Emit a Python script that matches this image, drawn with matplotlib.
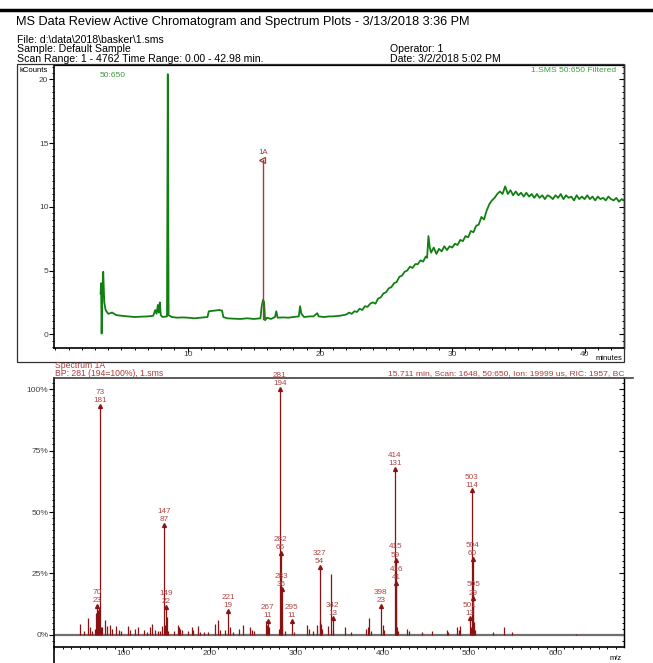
import matplotlib
matplotlib.use('Agg')
from matplotlib import pyplot as plt
from matplotlib.lines import Line2D
from matplotlib.patches import Rectangle
from matplotlib.ticker import MultipleLocator

plt.rcParams['font.family'] = ['Liberation Sans', 'DejaVu Sans']

W, H = 653, 663

# chromatogram, time (min) and intensity (kCounts)
chrom_time = [3.42, 3.46, 3.50, 3.55, 3.62, 3.70, 3.80, 4.0, 4.3, 4.6, 5.0, 5.5, 6.0, 6.5, 7.0, 7.4,
              7.55, 7.65, 7.75, 7.82, 7.9, 7.97, 8.1, 8.44, 8.50, 8.56, 8.8, 9.2, 9.6, 10.0, 10.5, 11.0,
              11.5, 11.6, 12.0, 12.4, 12.6, 12.7, 13.0, 13.5, 14.0, 14.5, 15.0, 15.5, 15.6, 15.7, 15.78,
              15.85, 16.0, 16.3, 16.6, 16.7, 16.8, 17.2, 17.6, 18.0, 18.4, 18.5, 18.6, 18.8, 19.2, 19.5,
              19.8, 19.9, 20.3, 20.7, 21.0, 21.5,
              22.0, 22.2, 22.4, 22.6, 22.8, 23.0, 23.2, 23.4, 23.6, 23.8, 24.0, 24.2, 24.4, 24.6, 24.8,
              25.0, 25.2, 25.4, 25.6, 25.8, 26.0, 26.2, 26.4, 26.6, 26.8, 27.0, 27.2, 27.4, 27.6, 27.8,
              28.0, 28.1, 28.2, 28.3, 28.4, 28.6, 28.8, 29.0, 29.2, 29.4, 29.6, 29.8, 30.0, 30.2, 30.4,
              30.6, 30.8, 31.0, 31.2, 31.4, 31.6, 31.8, 32.0, 32.2, 32.4, 32.6, 32.8, 33.0, 33.2, 33.4,
              33.6, 33.8, 34.0, 34.2, 34.4, 34.6, 34.8, 35.0, 35.2, 35.4, 35.6, 35.8, 36.0, 36.2, 36.4,
              36.6, 36.8, 37.0, 37.2, 37.4, 37.6, 37.8, 38.0, 38.2, 38.4, 38.6, 38.8, 39.0, 39.2, 39.4,
              39.6, 39.8, 40.0, 40.2, 40.4, 40.6, 40.8, 41.0, 41.2, 41.4, 41.6, 41.8, 42.0, 42.2, 42.4,
              42.6, 42.8, 42.98]
chrom_kcounts = [3.2, 4.0, 0.05, 3.0, 4.9, 2.5, 1.9, 1.6, 1.7, 1.5, 1.45, 1.4, 1.35, 1.38, 1.4, 1.45,
                 1.9, 1.6, 2.3, 1.7, 2.5, 1.5, 1.35, 1.4, 20.4, 1.5, 1.35, 1.3, 1.32, 1.3, 1.25, 1.3,
                 1.35, 1.8, 1.85, 1.9, 1.85, 1.35, 1.25, 1.22, 1.2, 1.25, 1.2, 1.25, 2.2, 2.7, 2.5,
                 1.1, 1.3, 1.2, 1.35, 1.8, 1.3, 1.32, 1.3, 1.35, 1.4, 2.2, 1.6, 1.35, 1.4, 1.4,
                 1.65, 1.4, 1.35, 1.4, 1.4, 1.45,
                 1.55, 1.7, 1.6, 1.8, 1.75, 2.0, 1.9, 2.2, 2.15, 2.4, 2.5, 2.4, 2.8, 2.9, 3.2,
                 3.3, 3.6, 3.7, 4.0, 4.1, 4.5, 4.6, 4.9, 5.0, 5.3, 5.2, 5.5, 5.5, 5.8, 5.7,
                 6.1, 6.0, 7.7, 6.8, 6.4, 6.8, 6.3, 6.7, 6.5, 6.9, 6.6, 6.9, 6.8, 7.1, 7.0,
                 7.4, 7.3, 7.7, 7.6, 8.1, 8.0, 8.5, 8.6, 9.2, 9.0, 9.7, 10.2, 10.5, 10.7, 11.0,
                 11.2, 11.0, 11.6, 11.0, 11.3, 10.9, 11.2, 10.9, 11.1, 10.8, 11.1, 10.8, 11.0, 10.7, 11.0,
                 10.7, 10.9, 10.6, 10.9, 10.8, 10.6, 10.9, 10.7, 11.0, 10.6, 10.9, 10.7, 10.8, 10.5, 10.9,
                 10.6, 10.8, 10.6, 10.9, 10.6, 10.8, 10.5, 10.8, 10.6, 10.7, 10.5, 10.8, 10.6, 10.5, 10.7,
                 10.4, 10.6, 10.5]

# spectrum 1A, m/z and counts (base peak 281 = 194)
spec_mz = [50, 54, 59, 62, 64, 67, 68, 69, 70, 71, 72, 73, 74, 75, 79, 81, 85, 87, 91, 95, 97,
           105, 108, 114, 117, 124, 127, 131, 133, 137, 140, 143, 145, 147, 148, 149, 150, 152,
           159, 163, 164, 166, 168, 175, 179, 181, 186, 189, 193, 198, 206, 209, 212, 218, 221,
           223, 227, 234, 239, 247, 249, 251, 265, 266, 267, 268, 280, 281, 282, 283, 284, 287,
           295, 298, 312, 315, 320, 324, 327, 328, 329, 330, 337, 340, 342, 343, 357, 363, 381,
           383, 384, 386, 398, 400, 401, 414, 415, 416, 417, 418, 428, 431, 445, 457, 475, 476,
           486, 488, 490, 501, 502, 503, 504, 505, 506, 507, 528, 540, 550, 624]
spec_counts = [9, 3, 13, 6, 3, 5, 17, 18, 23, 20, 21, 181, 6, 6, 12, 7, 8, 5, 7, 4, 3,
               7, 4, 5, 6, 4, 2, 6, 9, 4, 3, 3, 7, 87, 8, 22, 14, 3,
               3, 8, 6, 5, 4, 3, 6, 4, 7, 2, 2, 2, 9, 12, 4, 4, 19,
               6, 2, 5, 8, 6, 4, 3, 11, 8, 11, 6, 5, 194, 65, 36, 9, 3,
               11, 2, 8, 5, 3, 8, 54, 11, 9, 5, 7, 48, 13, 4, 6, 2, 5,
               6, 13, 3, 23, 8, 4, 131, 59, 41, 6, 3, 5, 3, 2, 3, 4, 2,
               6, 4, 7, 13, 6, 114, 60, 29, 10, 4, 2, 6, 2, 1]
base_count = 194
labeled_mz = [70, 73, 147, 149, 221, 267, 281, 282, 283, 295, 327, 342, 398, 414, 415, 416,
              501, 503, 504, 505]

chrom_yticks = [0, 5, 10, 15, 20]
chrom_xticks = [10, 20, 30, 40]
spec_yticks = [0, 25, 50, 75, 100]
spec_yticklabels = ['0%', '25%', '50%', '75%', '100%']
spec_xticks = [100, 200, 300, 400, 500, 600]

GREEN = '#118011'
RED = '#8b1212'
RED_TXT = '#b04646'
TICK_TXT = '#404040'


def fx(px):
    return px / W


def fy(py):
    return 1 - py / H


fig = plt.figure(figsize=(W / 100, H / 100), dpi=100)

# header
fig.add_artist(Line2D([0, 1], [fy(10), fy(10)], color='black', lw=2.5))
fig.text(fx(16), fy(22), 'MS Data Review Active Chromatogram and Spectrum Plots - 3/13/2018 3:36 PM',
         fontsize=9.2, va='center')
hdr = 7.6
fig.text(fx(17), fy(40), 'File: d:\\data\\2018\\basker\\1.sms', fontsize=hdr, va='center')
fig.text(fx(17), fy(49.5), 'Sample: Default Sample', fontsize=hdr, va='center')
fig.text(fx(17), fy(58.5), 'Scan Range: 1 - 4762 Time Range: 0.00 - 42.98 min.', fontsize=hdr, va='center')
fig.text(fx(390), fy(49.5), 'Operator: 1', fontsize=hdr, va='center')
fig.text(fx(390), fy(58.5), 'Date: 3/2/2018 5:02 PM', fontsize=hdr, va='center')

# chromatogram frame
fig.add_artist(Rectangle((fx(17), fy(362)), fx(624) - fx(17), fy(64) - fy(362), fill=False,
                         lw=0.9, edgecolor='#303030', transform=fig.transFigure))

ax1 = fig.add_axes([fx(54), fy(347.5), fx(624) - fx(54), fy(65) - fy(347.5)])
ax1.plot(chrom_time, chrom_kcounts, color=GREEN, lw=1.3)
ax1.plot([15.71, 15.71], [1.2, 13.7], color='#a03c3c', lw=1.0)
ax1.plot(15.6, 13.7, marker='<', mfc='none', mec='#a03c3c', ms=5, mew=0.9)
ax1.text(15.71, 14.25, '1A', ha='center', va='center', color='#a03c3c', fontsize=5.6)
ax1.set_xlim(-0.1, 42.98)
ax1.set_ylim(-1.04, 21.12)
ax1.set_xticks(chrom_xticks)
ax1.set_yticks(chrom_yticks)
ax1.xaxis.set_minor_locator(MultipleLocator(1))
ax1.yaxis.set_minor_locator(MultipleLocator(0.5))
ax1.tick_params(which='major', direction='out', length=3.5, width=0.8, labelsize=6,
                labelcolor=TICK_TXT, pad=0.5)
ax1.tick_params(which='minor', direction='out', length=1.5, width=0.7)
ax1.tick_params(axis='x', pad=-1)
for s in ['left', 'bottom']:
    ax1.spines[s].set_linewidth(1.2)
ax1.spines['top'].set_linewidth(0.9)
ax1.spines['right'].set_linewidth(1.0)
r1 = ax1.secondary_yaxis('right')
r1.set_yticks(chrom_yticks)
r1.yaxis.set_minor_locator(MultipleLocator(0.5))
r1.tick_params(which='major', direction='in', length=3.5, width=0.8, labelright=False)
r1.tick_params(which='minor', direction='in', length=1.5, width=0.7)

fig.text(fx(20), fy(70), 'kCounts', fontsize=5.6, va='center')
fig.text(fx(100), fy(75.5), '50:650', fontsize=6.1, va='center', color='#3c9c3c')
fig.text(fx(616), fy(70.5), '1.SMS 50:650 Filtered', fontsize=6.1, va='center', ha='right',
         color='#3ca03c')
fig.text(fx(622), fy(358.5), 'minutes', fontsize=5.5, va='center', ha='right')

# spectrum
spec_hdr = 6.2
fig.text(fx(55), fy(366), 'Spectrum 1A', fontsize=spec_hdr, va='center', color='#b03a3a')
fig.text(fx(55), fy(373.5), 'BP: 281 (194=100%), 1.sms', fontsize=spec_hdr, va='center', color='#b03a3a')
fig.text(fx(624), fy(373.5), '15.711 min, Scan: 1648, 50:650, Ion: 19999 us, RIC: 1957, BC',
         fontsize=6.1, va='center', ha='right', color='#b03a3a')

ax2 = fig.add_axes([fx(54), fy(647), fx(624) - fx(54), fy(378) - fy(647)])
spec_pct = [c / base_count * 100 for c in spec_counts]
ax2.axhline(0, color='#707070', lw=1.6, zorder=1)
ax2.vlines(spec_mz, 0, spec_pct, color=RED, lw=0.9, zorder=2)
for m, c, p in zip(spec_mz, spec_counts, spec_pct):
    if m in labeled_mz:
        ax2.plot(m, p, marker='^', ms=2.8, color=RED, zorder=3)
        ax2.annotate(str(c), (m, p), xytext=(0, 1.2), textcoords='offset points', ha='center',
                     va='bottom', fontsize=5.9, color=RED_TXT, annotation_clip=False)
        ax2.annotate(str(m), (m, p), xytext=(0, 7.0), textcoords='offset points', ha='center',
                     va='bottom', fontsize=5.9, color=RED_TXT, annotation_clip=False)
ax2.set_xlim(19.8, 679.2)
ax2.set_ylim(-4.9, 104.5)
ax2.set_xticks(spec_xticks)
ax2.set_yticks(spec_yticks)
ax2.set_yticklabels(spec_yticklabels)
ax2.xaxis.set_minor_locator(MultipleLocator(10))
ax2.yaxis.set_minor_locator(MultipleLocator(2.5))
ax2.tick_params(which='major', direction='out', length=3.5, width=0.8, labelsize=6,
                labelcolor=TICK_TXT, pad=0.5)
ax2.tick_params(which='minor', direction='out', length=1.5, width=0.7)
ax2.tick_params(axis='x', pad=-1)
for s in ['left', 'bottom']:
    ax2.spines[s].set_linewidth(1.2)
ax2.spines['top'].set_linewidth(1.2)
ax2.spines['top'].set_color('#404040')
ax2.spines['right'].set_linewidth(1.0)
r2 = ax2.secondary_yaxis('right')
r2.set_yticks(spec_yticks)
r2.yaxis.set_minor_locator(MultipleLocator(2.5))
r2.tick_params(which='major', direction='in', length=3.5, width=0.8, labelright=False)
r2.tick_params(which='minor', direction='in', length=1.5, width=0.7)

fig.add_artist(Line2D([fx(54), fx(54)], [fy(647), fy(663)], color='black', lw=1.2))
fig.add_artist(Line2D([fx(624), fx(633)], [fy(378), fy(378)], color='#404040', lw=1.2))
fig.text(fx(622), fy(658), 'm/z', fontsize=5.5, va='center', ha='right')

fig.savefig('out.png', dpi=100)
